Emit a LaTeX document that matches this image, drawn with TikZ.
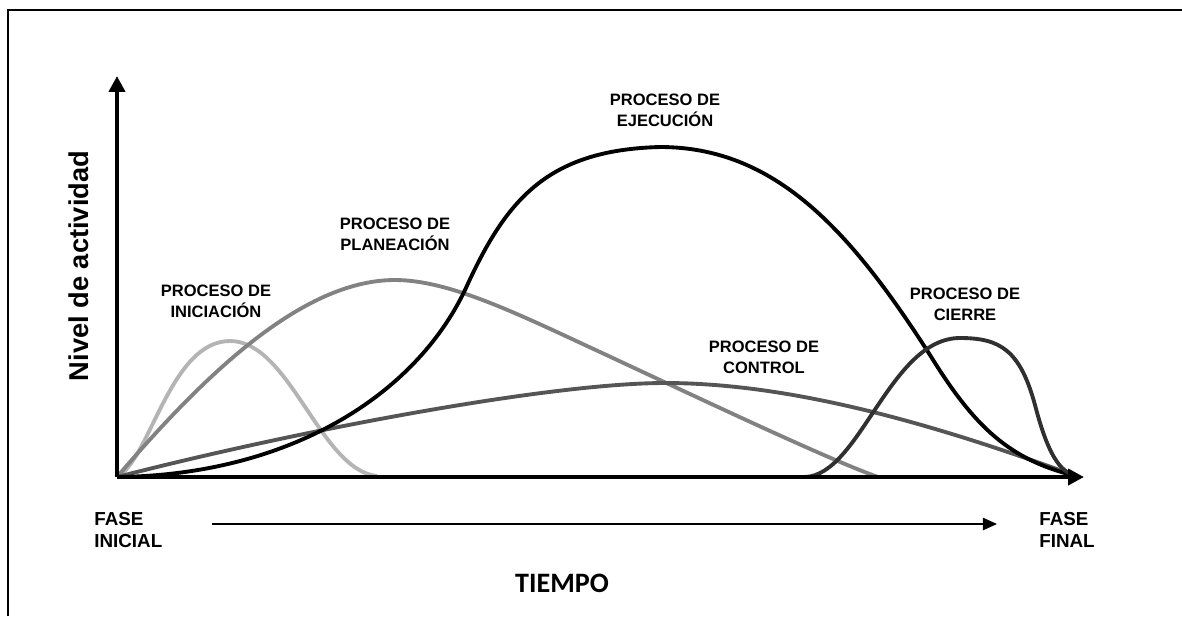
\documentclass[tikz,border=0pt]{standalone}
\usepackage{fontspec}
\setmainfont{Liberation Sans}
\newfontfamily\calibrifont{Carlito}
\usepackage{xcolor}
\usepackage{tikz}
\usetikzlibrary{
    arrows.meta,
    positioning
}
\definecolor{iniGray}{HTML}{B4B4B4}
\definecolor{plaGray}{HTML}{828282}
\definecolor{ctlGray}{HTML}{555555}
\definecolor{ciGray}{HTML}{303030}
\tikzstyle{proclabel} = [
    font=\fontsize{9.4}{12}\selectfont\bfseries,
    align=center,
    inner sep=0pt
]
\tikzstyle{faselabel} = [
    font=\fontsize{10.7}{12.6}\selectfont\bfseries,
    align=left,
    inner sep=0pt
]
\tikzstyle{axis} = [
    line width=2.8pt,
    -{Triangle[width=9pt,length=9pt]}
]
\tikzstyle{curve} = [
    line width=2.2pt
]

\begin{document}
\begin{tikzpicture}[x=0.02cm, y=-0.02cm]
    \useasboundingbox (0,0) rectangle (1182,616);
    % frame
    \draw[line width=1.2pt] (8,616) -- (8,10) -- (1182,10);

    % curves
    \draw[curve, iniGray] (117,477)
        .. controls (150,460) and (170,341) .. (230,341)
        .. controls (290,341) and (320,470) .. (377,476);
    \draw[curve, plaGray] (117,477)
        .. controls (200,380) and (300,280) .. (395,280)
        .. controls (450,280) and (520,315) .. (600,352)
        .. controls (720,408) and (830,460) .. (878,477);
    \draw[curve, ctlGray] (117,477)
        .. controls (300,430) and (550,383) .. (665,383)
        .. controls (800,383) and (950,430) .. (1076,476);
    \draw[curve, black] (117,477)
        .. controls (290,475) and (415,395) .. (465,290)
        .. controls (505,202) and (545,150) .. (660,147)
        .. controls (775,147) and (850,230) .. (930,355)
        .. controls (975,428) and (1010,460) .. (1076,476);
    \draw[curve, ciGray] (805,477)
        .. controls (860,475) and (890,338) .. (960,338)
        .. controls (1000,338) and (1020,350) .. (1035,405)
        .. controls (1048,455) and (1060,472) .. (1076,476);

    % axes
    \coordinate (origin) at (117,477);
    \coordinate (ytip) at (117,76);
    \coordinate (xtip) at (1084,477);
    \draw[axis] (origin) -- (ytip);
    \draw[axis] (origin) -- (xtip);

    % labels
    \node[proclabel] (ini) at (216,301) {PROCESO DE\\INICIACIÓN};
    \node[proclabel] (pla) at (395,234) {PROCESO DE\\PLANEACIÓN};
    \node[proclabel] (eje) at (665,110) {PROCESO DE\\EJECUCIÓN};
    \node[proclabel] (ctl) at (764,357) {PROCESO DE\\CONTROL};
    \node[proclabel] (cie) at (965,304) {PROCESO DE\\CIERRE};

    \node[faselabel, anchor=west] (inicial) at (94,530) {FASE\\INICIAL};
    \node[faselabel, anchor=west] (final) at (1039,530) {FASE\\FINAL};

    \coordinate (tstart) at (212,524);
    \coordinate (tend) at (997,524);
    \draw[line width=0.9pt, -{Triangle[width=7pt,length=8pt]}] (tstart) -- (tend);

    \node[font=\calibrifont\fontsize{16}{18}\selectfont\bfseries] (tiempo) at (562,583) {TIEMPO};
    \node[font=\fontsize{15.5}{18}\selectfont\bfseries, rotate=90] (nivel) at (79,266) {Nivel de actividad};
\end{tikzpicture}
\end{document}
